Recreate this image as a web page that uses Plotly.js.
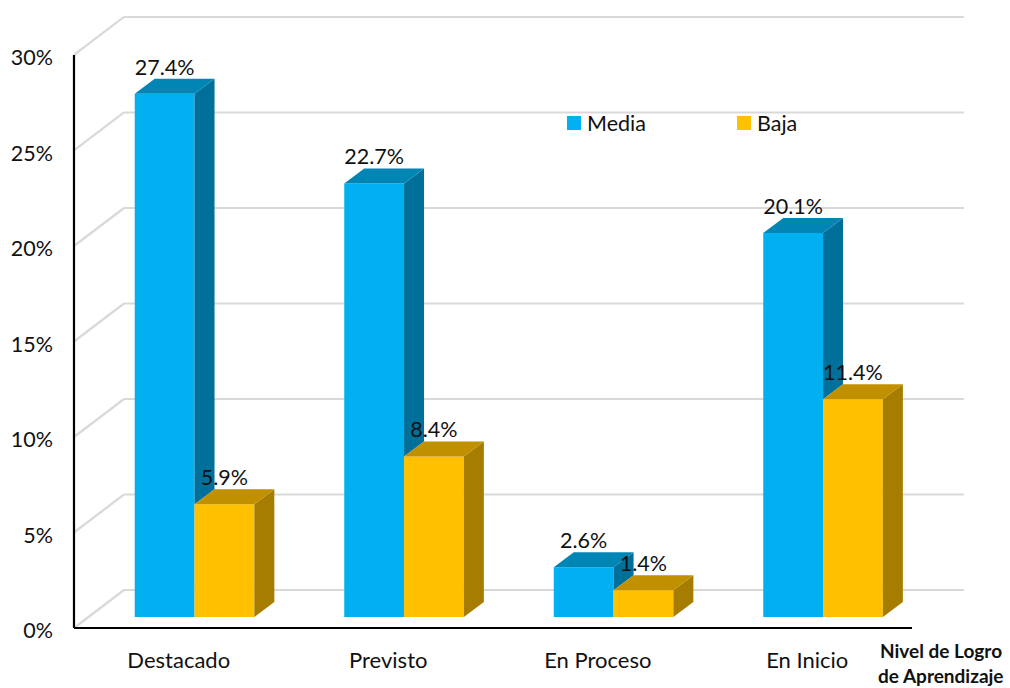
<!DOCTYPE html>
<html>
<head>
<meta charset="utf-8">
<script src="https://cdn.plot.ly/plotly-3.0.1.min.js"></script>
<style>html,body{margin:0;padding:0;background:#fff}</style>
</head>
<body>
<div id="chart" style="width:1010px;height:688px"></div>
<script>
const categories = ["Destacado", "Previsto", "En Proceso", "En Inicio"];
const seriesNames = ["Media", "Baja"];
const mediaValues = [27.4, 22.7, 2.6, 20.1];
const bajaValues = [5.9, 8.4, 1.4, 11.4];
const yTicks = [0, 5, 10, 15, 20, 25, 30];
const yTickLabels = ["0%", "5%", "10%", "15%", "20%", "25%", "30%"];

// projection constants, in axis units
const PXX = 209.5, PXY = 19.1;           // pixels per category / per percent
const barW = 59.8 / PXX;
const blueOff = -44 / PXX;
const yellowOff = blueOff + barW;
const baseY = 11 / PXY;                  // floor position of the bar fronts
const barDX = 20 / PXX, barDY = 15 / PXY;// bar depth
const wallDX = 50 / PXX, wallDY = 38 / PXY; // wall depth
const FONT = "Lato, Carlito, Calibri, sans-serif";
const labelGap = 24.5 / PXY;
const tickNudge = 2.5 / PXY;             // tick labels sit slightly below their gridline

const faceTrace = (xs, ys, color) => ({
  type: "scatter", mode: "lines", x: xs, y: ys, fill: "toself",
  fillcolor: color, line: {width: 0, color: color},
  hoverinfo: "skip", showlegend: false
});

const traces = [];
traces.push({
  type: "bar", name: seriesNames[0], x: categories.map((_, i) => i), y: mediaValues,
  base: mediaValues.map(() => baseY), width: barW, offset: blueOff,
  marker: {color: "#00B0F0"}, showlegend: false
});
traces.push({
  type: "bar", name: seriesNames[1], x: categories.map((_, i) => i), y: bajaValues,
  base: bajaValues.map(() => baseY), width: barW, offset: yellowOff,
  marker: {color: "#FFC000"}, showlegend: false
});

categories.forEach((_, i) => {
  const m = mediaValues[i] + baseY, b = bajaValues[i] + baseY;
  const x0 = i + blueOff, x1 = x0 + barW, x2 = x1 + barW;
  // blue side: only the part above the yellow bar's top face
  traces.push(faceTrace([x1, x1 + barDX, x1 + barDX, x1, x1],
                        [m, m + barDY, b + barDY, b, m], "#00709A"));
  // blue top
  traces.push(faceTrace([x0, x1, x1 + barDX, x0 + barDX, x0],
                        [m, m, m + barDY, m + barDY, m], "#0085B5"));
  // yellow side
  traces.push(faceTrace([x2, x2 + barDX, x2 + barDX, x2, x2],
                        [b, b + barDY, baseY + barDY, baseY, b], "#A67D00"));
  // yellow top
  traces.push(faceTrace([x1, x2, x2 + barDX, x1 + barDX, x1],
                        [b, b, b + barDY, b + barDY, b], "#C09000"));
});

const labelTrace = (vals, off) => ({
  type: "scatter", mode: "text",
  x: vals.map((_, i) => i + off + barW / 2),
  y: vals.map(v => v + baseY + labelGap),
  text: vals.map(v => v.toFixed(1) + "%"),
  textposition: "middle center",
  textfont: {family: FONT, size: 21.5, color: "#111"},
  hoverinfo: "skip", showlegend: false
});
traces.push(labelTrace(mediaValues, blueOff));
traces.push(labelTrace(bajaValues, yellowOff));

const xLeft = -0.5, xAxisEnd = 3.5, wallEnd = xAxisEnd + wallDX * 1.04;
const shapes = [];
yTicks.forEach(t => {
  shapes.push({type: "line", layer: "below", xref: "x", yref: "y",
    x0: xLeft, y0: t, x1: xLeft + wallDX, y1: t + wallDY,
    line: {color: "#D9D9D9", width: 2.2}});
  shapes.push({type: "line", layer: "below", xref: "x", yref: "y",
    x0: xLeft + wallDX, y0: t + wallDY, x1: wallEnd, y1: t + wallDY,
    line: {color: "#D9D9D9", width: 2.2}});
});
shapes.push({type: "line", layer: "above", xref: "x", yref: "y",
  x0: xLeft, y0: 0, x1: xLeft, y1: 30, line: {color: "#000", width: 2.2}});
shapes.push({type: "line", layer: "above", xref: "x", yref: "y",
  x0: xLeft, y0: 0, x1: xAxisEnd, y1: 0, line: {color: "#000", width: 2.2}});

// legend keys
const W = 1010, H = 688, ML = 60, MR = 30, MT = 6, MB = 48;
const px = p => (p - ML) / (W - ML - MR);
const py = p => (H - MB - p) / (H - MT - MB);
shapes.push({type: "rect", xref: "paper", yref: "paper", layer: "above",
  x0: px(567), x1: px(581), y0: py(130), y1: py(116), fillcolor: "#00B0F0", line: {width: 0}});
shapes.push({type: "rect", xref: "paper", yref: "paper", layer: "above",
  x0: px(737), x1: px(751), y0: py(130), y1: py(116), fillcolor: "#FFC000", line: {width: 0}});

const note = (text, x, y, anchor, size) => ({
  xref: "paper", yref: "paper", x: px(x), y: py(y), xanchor: anchor, yanchor: "middle",
  text: text, showarrow: false, font: {family: FONT, size: size, color: "#111"}
});

const layout = {
  width: W, height: H,
  margin: {l: ML, r: MR, t: MT, b: MB, pad: 0},
  paper_bgcolor: "#fff", plot_bgcolor: "#fff",
  barmode: "overlay", showlegend: false,
  xaxis: {range: [-0.5668, 3.8246], tickmode: "array", tickvals: [0, 1, 2, 3],
    ticktext: categories, showgrid: false, zeroline: false, showline: false, ticks: "",
    tickfont: {family: FONT, size: 22, color: "#111"}, ticklabelstandoff: 5},
  yaxis: {range: [-0.628, 32.565], tickmode: "array", tickvals: yTicks.map(t => t - tickNudge),
    ticktext: yTickLabels, showgrid: false, zeroline: false, showline: false, ticks: "",
    tickfont: {family: FONT, size: 21.5, color: "#111"}, ticklabelstandoff: 6},
  shapes: shapes,
  annotations: [
    note(seriesNames[0], 585, 123, "left", 21.5),
    note(seriesNames[1], 755, 123, "left", 21.5),
    note("<b>Nivel de Logro</b>", 941, 651, "center", 19),
    note("<b>de Aprendizaje</b>", 941, 675, "center", 19)
  ]
};
Plotly.newPlot("chart", traces, layout, {displayModeBar: false, staticPlot: true});
</script>
</body>
</html>
